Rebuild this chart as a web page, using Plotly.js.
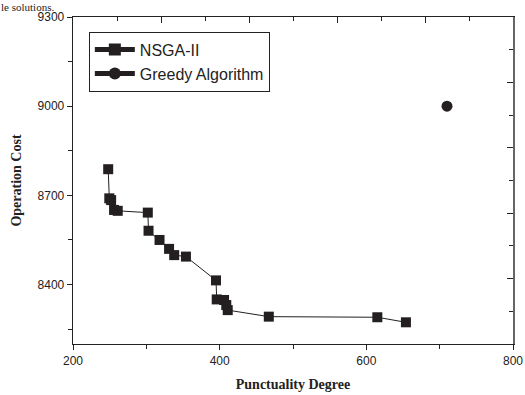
<!DOCTYPE html>
<html>
<head>
<meta charset="utf-8">
<script src="https://cdn.plot.ly/plotly-3.0.1.min.js"></script>
<style>html,body{margin:0;padding:0;background:#fff;}#chart{width:525px;height:395px;}</style>
</head>
<body>
<div id="chart"></div>
<script>
// NSGA-II Pareto front (Punctuality Degree, Operation Cost)
const nsgaPunctuality = [248, 249.5, 252, 256, 261, 302, 303, 318, 331, 338, 354, 395, 396, 406, 409, 411, 467, 615, 654];
const nsgaCost        = [8788, 8690, 8684, 8651, 8648, 8642, 8581, 8550, 8520, 8499, 8494, 8414, 8350, 8348, 8331, 8314, 8292, 8290, 8273];
// Greedy Algorithm solution
const greedyPunctuality = [710];
const greedyCost        = [9000];
const seriesNames = ['NSGA-II', 'Greedy Algorithm'];
const xTickVals = [200, 400, 600, 800];
const yTickVals = [8400, 8700, 9000, 9300];

const dark = '#231f20';
const traces = [
  {x: nsgaPunctuality, y: nsgaCost, name: seriesNames[0], type: 'scatter', mode: 'lines+markers',
   line: {color: dark, width: 1}, marker: {symbol: 'square', size: 10, color: dark}},
  {x: greedyPunctuality, y: greedyCost, name: seriesNames[1], type: 'scatter', mode: 'lines+markers',
   line: {color: dark, width: 1}, marker: {symbol: 'circle', size: 11, color: dark}},
  {x: [], y: [], xaxis: 'x2', yaxis: 'y2', showlegend: false, type: 'scatter', mode: 'markers', hoverinfo: 'skip'}
];

const tickFont = {family: 'Liberation Sans, Arial, sans-serif', size: 12, color: '#222'};
const titleFont = {family: 'Liberation Serif, Times New Roman, serif', size: 14, color: '#222', weight: 'bold'};

const layout = {
  width: 525, height: 395,
  margin: {l: 73, r: 12, t: 17, b: 51},
  paper_bgcolor: '#fff', plot_bgcolor: '#fff',
  showlegend: true,
  legend: {x: 0.036, y: 0.955, xanchor: 'left', yanchor: 'top', bgcolor: '#fff',
           bordercolor: '#222', borderwidth: 1, font: {family: 'Liberation Sans, Arial, sans-serif', size: 16, color: '#222'},
           tracegroupgap: 0, itemsizing: 'constant', itemwidth: 40},
  xaxis: {range: [200, 800], tickvals: xTickVals, ticks: 'outside', ticklen: 5, tickwidth: 1, tickcolor: '#222',
          minor: {dtick: 100, tick0: 200, ticks: 'outside', ticklen: 4, tickcolor: '#222', showgrid: false},
          showline: true, linecolor: '#222', linewidth: 1.3, showgrid: false, zeroline: false,
          tickfont: tickFont, title: {text: 'Punctuality Degree', font: titleFont, standoff: 12}},
  yaxis: {range: [8200, 9300], tickvals: yTickVals, ticks: 'outside', ticklen: 5, tickwidth: 1, tickcolor: '#222',
          minor: {dtick: 150, tick0: 8250, ticks: 'outside', ticklen: 4, tickcolor: '#222', showgrid: false},
          showline: true, linecolor: '#222', linewidth: 1.3, showgrid: false, zeroline: false,
          tickfont: tickFont, title: {text: 'Operation Cost', font: titleFont, standoff: 12}},
  xaxis2: {overlaying: 'x', side: 'top', anchor: 'y2', range: [200, 800], dtick: 120, tick0: 200, ticks: 'inside', ticklen: 6,
           tickcolor: '#222', showticklabels: false, showline: true, linecolor: '#222', linewidth: 1.3, showgrid: false, zeroline: false,
           minor: {dtick: 60, tick0: 200, ticks: 'inside', ticklen: 4, tickcolor: '#222', showgrid: false}},
  yaxis2: {overlaying: 'y', side: 'right', anchor: 'x2', range: [8200, 9300], dtick: 220, tick0: 8200, ticks: 'inside', ticklen: 6,
           tickcolor: '#222', showticklabels: false, showline: true, linecolor: '#666', linewidth: 2, showgrid: false, zeroline: false,
           minor: {dtick: 110, tick0: 8200, ticks: 'inside', ticklen: 4, tickcolor: '#222', showgrid: false}},
  annotations: [{text: 'le solutions.', xref: 'paper', yref: 'paper', x: -0.166, y: 1.0, xanchor: 'left', yanchor: 'top',
                 yshift: 17, borderpad: 0, showarrow: false, font: {family: 'Liberation Serif, Times New Roman, serif', size: 11, color: '#222'}}]
};

Plotly.newPlot('chart', traces, layout, {displayModeBar: false, staticPlot: true});
</script>
</body>
</html>
